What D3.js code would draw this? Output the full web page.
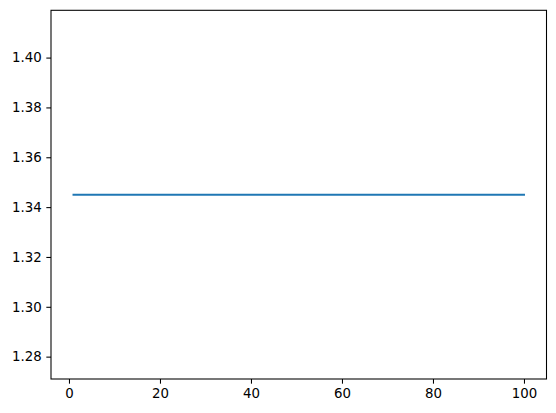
<!DOCTYPE html>
<html>
<head>
<meta charset="utf-8">
<script src="https://cdn.jsdelivr.net/npm/d3@7"></script>
<style>
  body { margin: 0; background: white; }
  text { font-family: "DejaVu Sans", sans-serif; }
</style>
</head>
<body>
<div id="chart-area"></div>
<script>
var xValues = [
  1, 2, 3, 4, 5, 6, 7, 8, 9, 10,
  11, 12, 13, 14, 15, 16, 17, 18, 19, 20,
  21, 22, 23, 24, 25, 26, 27, 28, 29, 30,
  31, 32, 33, 34, 35, 36, 37, 38, 39, 40,
  41, 42, 43, 44, 45, 46, 47, 48, 49, 50,
  51, 52, 53, 54, 55, 56, 57, 58, 59, 60,
  61, 62, 63, 64, 65, 66, 67, 68, 69, 70,
  71, 72, 73, 74, 75, 76, 77, 78, 79, 80,
  81, 82, 83, 84, 85, 86, 87, 88, 89, 90,
  91, 92, 93, 94, 95, 96, 97, 98, 99, 100
];
var yValues = [
  1.345, 1.345, 1.345, 1.345, 1.345, 1.345, 1.345, 1.345, 1.345, 1.345,
  1.345, 1.345, 1.345, 1.345, 1.345, 1.345, 1.345, 1.345, 1.345, 1.345,
  1.345, 1.345, 1.345, 1.345, 1.345, 1.345, 1.345, 1.345, 1.345, 1.345,
  1.345, 1.345, 1.345, 1.345, 1.345, 1.345, 1.345, 1.345, 1.345, 1.345,
  1.345, 1.345, 1.345, 1.345, 1.345, 1.345, 1.345, 1.345, 1.345, 1.345,
  1.345, 1.345, 1.345, 1.345, 1.345, 1.345, 1.345, 1.345, 1.345, 1.345,
  1.345, 1.345, 1.345, 1.345, 1.345, 1.345, 1.345, 1.345, 1.345, 1.345,
  1.345, 1.345, 1.345, 1.345, 1.345, 1.345, 1.345, 1.345, 1.345, 1.345,
  1.345, 1.345, 1.345, 1.345, 1.345, 1.345, 1.345, 1.345, 1.345, 1.345,
  1.345, 1.345, 1.345, 1.345, 1.345, 1.345, 1.345, 1.345, 1.345, 1.345
];
var xTicks = [0, 20, 40, 60, 80, 100];
var yTicks = [1.28, 1.30, 1.32, 1.34, 1.36, 1.38, 1.40];

var data = xValues.map((x, i) => ({ x: x, y: yValues[i] }));

var svgWidth = 556, svgHeight = 413;
var margin = { top: 10.3, right: 9.5, bottom: 34, left: 51 };
var width = svgWidth - margin.left - margin.right;
var height = svgHeight - margin.top - margin.bottom;

var svg = d3.select("#chart-area")
  .append("svg")
  .attr("width", svgWidth)
  .attr("height", svgHeight);

var g = svg.append("g")
  .attr("transform", "translate(" + margin.left + "," + margin.top + ")");

// matplotlib-style limits: 5% margin on x, flat y expanded by 5% then 5% margin
var xMin = d3.min(xValues), xMax = d3.max(xValues);
var xPad = (xMax - xMin) * 0.05;
var x = d3.scaleLinear()
  .domain([xMin - xPad, xMax + xPad])
  .range([0, width]);

var yMid = d3.mean(yValues);
var yHalf = Math.abs(yMid) * 0.05 * 1.1;
var y = d3.scaleLinear()
  .domain([yMid - yHalf, yMid + yHalf])
  .range([height, 0]);

var line = d3.line()
  .x(d => x(d.x))
  .y(d => y(d.y));

g.append("path")
  .datum(data)
  .attr("fill", "none")
  .attr("stroke", "#1f77b4")
  .attr("stroke-width", 2)
  .attr("stroke-linecap", "square")
  .attr("d", line);

var xAxisCall = d3.axisBottom(x)
  .tickValues(xTicks)
  .tickSize(4.67)
  .tickPadding(4.7)
  .tickFormat(d3.format("d"));
g.append("g")
  .attr("class", "x axis")
  .attr("transform", "translate(0," + height + ")")
  .call(xAxisCall);

var yAxisCall = d3.axisLeft(y)
  .tickValues(yTicks)
  .tickSize(4.67)
  .tickPadding(4.7)
  .tickFormat(d3.format(".2f"));
g.append("g")
  .attr("class", "y axis")
  .call(yAxisCall);

g.selectAll(".axis .domain").remove();
g.selectAll(".tick line")
  .attr("stroke", "black")
  .attr("stroke-width", 1.07);
g.selectAll(".tick text")
  .attr("fill", "black")
  .attr("font-size", "13.33px")
  .attr("font-family", "DejaVu Sans, sans-serif");

// axes frame
g.append("rect")
  .attr("x", 0)
  .attr("y", 0)
  .attr("width", width)
  .attr("height", height)
  .attr("fill", "none")
  .attr("stroke", "black")
  .attr("stroke-width", 1.07);
</script>
</body>
</html>
